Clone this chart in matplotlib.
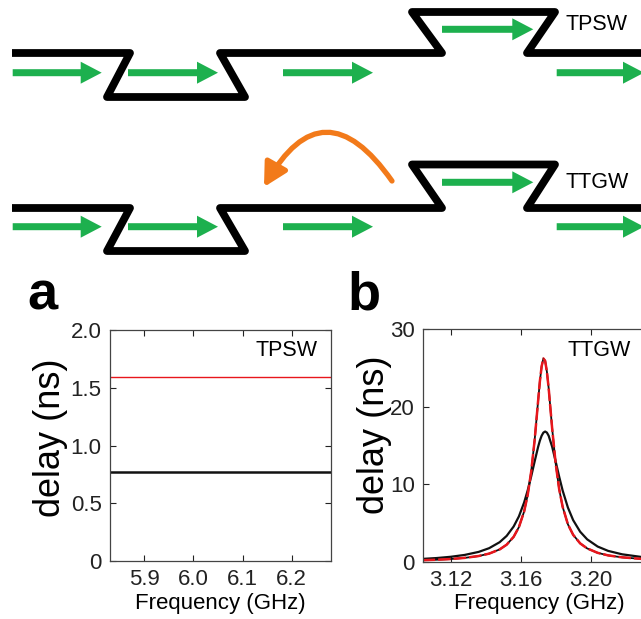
import matplotlib
matplotlib.use("Agg")
import matplotlib.pyplot as plt
from matplotlib.patches import FancyArrowPatch

plt.rcParams["font.family"] = ["Liberation Sans", "DejaVu Sans"]

# ---- data ----
freq_a = [5.83, 5.90, 6.00, 6.10, 6.20, 6.28]           # GHz
delay_a_red = [1.59, 1.59, 1.59, 1.59, 1.59, 1.59]      # ns
delay_a_black = [0.77, 0.77, 0.77, 0.77, 0.77, 0.77]    # ns

freq_b = [3.104, 3.112, 3.120, 3.128, 3.136, 3.142, 3.148, 3.152, 3.156, 3.159,
          3.162, 3.164, 3.166, 3.168, 3.170, 3.171, 3.172, 3.173, 3.174, 3.175,
          3.176, 3.178, 3.180, 3.182, 3.184, 3.187, 3.190, 3.194, 3.198, 3.204,
          3.210, 3.218, 3.229, 3.236]
delay_b_red = [0.23, 0.29, 0.38, 0.53, 0.77, 1.08, 1.62, 2.23, 3.24, 4.49,
               6.51, 8.60, 11.6, 15.7, 20.8, 23.3, 25.2, 26.2, 25.9, 24.5,
               22.4, 17.2, 12.7, 9.4, 7.1, 4.85, 3.5, 2.4, 1.75, 1.18,
               0.85, 0.6, 0.4, 0.3]
delay_b_black = [0.40, 0.51, 0.67, 0.91, 1.30, 1.78, 2.55, 3.36, 4.57, 5.87,
                 7.67, 9.2, 11.0, 12.95, 14.84, 15.64, 16.26, 16.66, 16.8, 16.66,
                 16.26, 14.84, 12.95, 11.0, 9.2, 7.01, 5.39, 3.9, 2.92, 1.99,
                 1.43, 0.99, 0.65, 0.52]

# ---- schematic geometry (pixel coordinates of the drawing) ----
guide_x = [12, 130, 107, 245, 220, 442, 412, 555, 527, 645]
guide_y_top = [53, 53, 97, 97, 53, 53, 12, 12, 53, 53]
guide_y_bot = [208, 208, 251, 251, 208, 208, 164.5, 164.5, 208, 208]
arrow_x = [(12.7, 101.7), (128, 218), (283, 373), (442, 533.3), (556.7, 644)]
arrow_y_top = [72.7, 72.7, 72.7, 29.3, 72.7]
arrow_y_bot = [226.7, 226.7, 226.7, 182.3, 226.7]

W, H = 641, 619
GREEN = "#1db04e"
ORANGE = "#f27a1a"
RED = "#e8161c"


def px_box(left, top, right, bottom):
    return [left / W, 1 - bottom / H, (right - left) / W, (bottom - top) / H]


def fx(x):
    return x / W


def fy(y):
    return 1 - y / H


fig = plt.figure(figsize=(W / 100, H / 100), dpi=100)

# schematic
ax0 = fig.add_axes([0, 0, 1, 1], zorder=0)
ax0.set_xlim(0, W)
ax0.set_ylim(H, 0)
ax0.axis("off")
for gy, ay in ((guide_y_top, arrow_y_top), (guide_y_bot, arrow_y_bot)):
    ax0.plot(guide_x, gy, color="black", lw=5.6, solid_joinstyle="round",
             solid_capstyle="butt")
    for (x0, x1), y in zip(arrow_x, ay):
        ax0.arrow(x0, y, x1 - x0, 0, width=7, head_width=22, head_length=21,
                  length_includes_head=True, color=GREEN, lw=0)
ax0.add_patch(FancyArrowPatch((392, 181), (264, 187),
                              connectionstyle="arc3,rad=0.79",
                              arrowstyle="-|>,head_length=14,head_width=7.5",
                              mutation_scale=1, lw=3.8, color=ORANGE,
                              shrinkA=0, shrinkB=0))
fig.text(fx(566), fy(25), "TPSW", fontsize=15.5, ha="left", va="center")
fig.text(fx(565), fy(182), "TTGW", fontsize=15.5, ha="left", va="center")


def style(ax):
    ax.tick_params(direction="in", top=True, right=True, length=4, width=0.8,
                   labelsize=16, pad=6, colors="#222222")
    for s in ax.spines.values():
        s.set_linewidth(0.9)
        s.set_color("#444444")


# panel a
ax_a = fig.add_axes(px_box(110, 330, 331, 561))
ax_a.plot(freq_a, delay_a_red, color=RED, lw=1.0)
ax_a.plot(freq_a, delay_a_black, color="#111111", lw=1.8)
ax_a.set_xlim(5.83, 6.28)
ax_a.set_ylim(0, 2)
ax_a.set_xticks([5.9, 6.0, 6.1, 6.2])
ax_a.set_xticklabels(["5.9", "6.0", "6.1", "6.2"])
ax_a.set_yticks([0, 0.5, 1.0, 1.5, 2.0])
ax_a.set_yticklabels(["0", "0.5", "1.0", "1.5", "2.0"])
style(ax_a)

# panel b
ax_b = fig.add_axes(px_box(423, 329, 660, 562))
ax_b.plot(freq_b, delay_b_black, color="#111111", lw=1.6)
ax_b.plot(freq_b, delay_b_red, color="#111111", lw=1.3)
ax_b.plot(freq_b, delay_b_red, color=RED, lw=1.8, dashes=(5, 1.2))
ax_b.set_xlim(3.1042, 3.1042 + 237 / 1750)
ax_b.set_ylim(0, 30)
ax_b.set_xticks([3.12, 3.16, 3.20])
ax_b.set_xticklabels(["3.12", "3.16", "3.20"])
ax_b.set_yticks([0, 10, 20, 30])
ax_b.set_yticklabels(["0", "10", "20", "30"])
style(ax_b)

# labels
fig.text(fx(318), fy(350), "TPSW", fontsize=15.5, ha="right", va="center")
fig.text(fx(568), fy(350), "TTGW", fontsize=15.5, ha="left", va="center")
fig.text(fx(50), fy(438), "delay (ns)", fontsize=26, rotation=90,
         ha="center", va="center")
fig.text(fx(374), fy(435), "delay (ns)", fontsize=26, rotation=90,
         ha="center", va="center")
fig.text(fx(220), fy(604), "Frequency (GHz)", fontsize=16, ha="center", va="center")
fig.text(fx(539), fy(604), "Frequency (GHz)", fontsize=16, ha="center", va="center")
fig.text(fx(27), fy(310), "a", fontsize=39, fontweight="bold", ha="left", va="baseline")
fig.text(fx(347), fy(310), "b", fontsize=39, fontweight="bold", ha="left", va="baseline")

fig.savefig("out.png", dpi=100)
plt.close(fig)
